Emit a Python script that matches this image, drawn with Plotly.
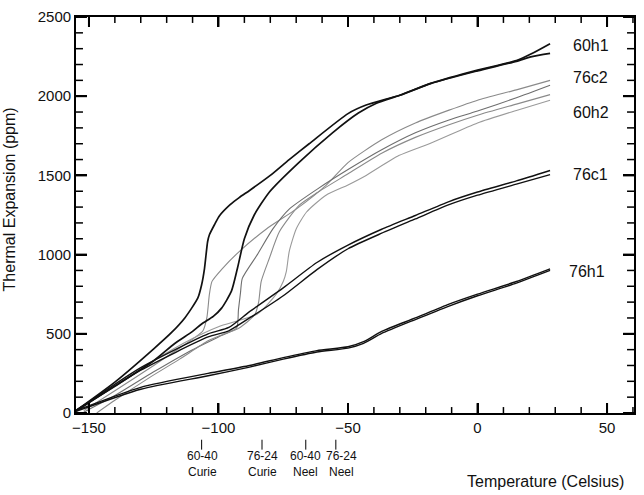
import plotly.graph_objects as go

# ---------------- data ----------------
# 60h1 : two black runs with a large (Curie) step
t_60h1_a = [-155, -140, -125, -118, -113, -108, -106.5, -105.4, -104.2, -103.5, -101.5, -99.6, -95.5, -92, -88, -80, -72.7, -65, -50, -43, -30, -18, 0, 15, 21, 28]
v_60h1_a = [15, 195, 405, 510, 600, 725, 810, 912, 1081, 1125, 1190, 1245, 1315, 1360, 1405, 1500, 1600, 1700, 1890, 1944, 2006, 2081, 2165, 2225, 2269, 2331]
t_60h1_b = [-155, -140, -125, -117, -110, -106.5, -102, -98.8, -95, -92.7, -90, -86.2, -80.4, -69, -56, -46, -39, -30, -18, 0, 15, 21, 28]
v_60h1_b = [15, 170, 330, 437, 515, 562, 610, 662, 769, 912, 1100, 1250, 1394, 1581, 1769, 1894, 1956, 2006, 2081, 2160, 2220, 2250, 2270]

# grey runs (76c2 / 60h2)
t_g_a = [-152, -140, -125, -115, -108, -106, -104.5, -103.5, -102.5, -98.5, -92, -81.5, -70, -58.5, -50, -37, -24, -11, 0, 15, 28]
v_g_a = [15, 140, 300, 410, 490, 519, 600, 750, 831, 912, 1019, 1162, 1287, 1437, 1581, 1725, 1831, 1912, 1975, 2040, 2100]
t_g_b = [-152, -140, -125, -110, -100, -93, -92.3, -91.5, -90.8, -85, -79, -72.7, -62, -50, -37, -24, -11, 0, 15, 28]
v_g_b = [5, 110, 260, 400, 480, 537, 650, 760, 850, 1000, 1162, 1287, 1412, 1537, 1662, 1769, 1850, 1906, 1990, 2069]
t_g_c = [-147, -140, -126.5, -115, -104, -97.7, -92, -86, -84.5, -83.5, -80.4, -76.5, -68.8, -62, -50, -37, -24, -11, 0, 15, 28]
v_g_c = [0, 80, 225, 340, 456, 500, 537, 620, 700, 831, 975, 1144, 1312, 1390, 1510, 1640, 1740, 1820, 1880, 1950, 2010]
t_g_d = [-155, -140, -125, -110, -100, -85, -77.7, -75, -73.8, -72.7, -70, -66, -58.5, -50, -43, -30.4, -17.7, 0, 15, 28]
v_g_d = [20, 165, 330, 470, 545, 625, 750, 830, 894, 1019, 1162, 1269, 1375, 1440, 1500, 1625, 1706, 1831, 1910, 1975]

# 76c1 : black double line
t_76c1 = [-155, -130, -104, -96, -88, -75, -62, -50, -37, -24, -11, 0, 15, 28]
v_76c1_a = [15, 287, 500, 540, 640, 790, 950, 1060, 1160, 1247, 1335, 1395, 1465, 1531]
v_76c1_b = [10, 270, 480, 519, 600, 740, 905, 1037, 1135, 1225, 1315, 1375, 1445, 1505]

# 76h1 : black double line
t_76h1 = [-155, -130, -104, -88, -75, -62, -50, -44, -37, -24, -11, 0, 15, 28]
v_76h1_a = [15, 162, 250, 300, 350, 394, 418, 450, 515, 600, 687, 750, 830, 910]
v_76h1_b = [10, 150, 235, 290, 340, 385, 410, 440, 502, 590, 675, 740, 820, 900]

# axes
x_range = [-155, 60.4]
y_range = [0, 2500]
x_major = [-150, -100, -50, 0, 50]
x_minor = list(range(-150, 61, 10))
y_major = [0, 500, 1000, 1500, 2000, 2500]
y_minor = list(range(0, 2501, 100))

# curve labels
label_text = ["60h1", "76c2", "60h2", "76c1", "76h1"]
label_x = [43.7, 43.7, 43.7, 43.7, 42.3]
label_y = [2319, 2119, 1900, 1506, 894]

# transition markers under the axis
marker_x = [-106.5, -83.2, -66.3, -54.7]
marker_text = ["60-40<br>Curie", "76-24<br>Curie", "60-40<br>Neel", "76-24<br>Neel"]
marker_text_x = [-106, -83, -66.5, -52.5]

FONT = "Liberation Sans, Arial, Helvetica, sans-serif"
BLACK = "#000000"
GREY = "#8a8a8a"
PLOT_W, PLOT_H = 560, 400  # plot-area size in px
ux = (x_range[1] - x_range[0]) / PLOT_W   # data units per px, x
uy = (y_range[1] - y_range[0]) / PLOT_H   # data units per px, y

fig = go.Figure()

def add(t, v, color, width):
    fig.add_trace(go.Scatter(x=t, y=v, mode="lines",
                             line=dict(color=color, width=width, shape="spline", smoothing=0.6),
                             showlegend=False, hoverinfo="skip"))

add(t_g_a, v_g_a, GREY, 1.1)
add(t_g_b, v_g_b, "#6e6e6e", 1.1)
add(t_g_c, v_g_c, GREY, 1.1)
add(t_g_d, v_g_d, "#9a9a9a", 1.1)
add(t_60h1_a, v_60h1_a, "#111111", 1.7)
add(t_60h1_b, v_60h1_b, "#111111", 1.7)
add(t_76c1, v_76c1_a, "#111111", 1.4)
add(t_76c1, v_76c1_b, "#111111", 1.4)
add(t_76h1, v_76h1_a, "#111111", 1.4)
add(t_76h1, v_76h1_b, "#111111", 1.4)

# inward tick marks on all four sides, one short line trace per tick
def add_tick(xs, ys, width):
    fig.add_trace(go.Scatter(x=xs, y=ys, mode="lines", cliponaxis=False,
                             line=dict(color=BLACK, width=width),
                             showlegend=False, hoverinfo="skip"))

for xv in x_minor:
    major = xv in x_major
    L = (10 if major else 6) * uy
    w = 2 if major else 1.5
    add_tick([xv, xv], [y_range[0], y_range[0] + L], w)
    add_tick([xv, xv], [y_range[1], y_range[1] - L], w)
for yv in y_minor:
    major = yv in y_major
    L = (11 if major else 7) * ux
    w = 2 if major else 1.5
    x0 = x_range[0] - (4 * ux if major else 0)
    add_tick([x0, x_range[0] + L], [yv, yv], w)
    add_tick([x_range[1], x_range[1] - L], [yv, yv], w)

annotations = []
for txt, x, y in zip(label_text, label_x, label_y):
    annotations.append(dict(x=x, y=y, xref="x", yref="y", text=txt, showarrow=False,
                            font=dict(family=FONT, size=16, color="#111111")))

shapes = []
for mx in marker_x:
    shapes.append(dict(type="line", xref="x", yref="paper", x0=mx, x1=mx,
                       y0=-0.0675, y1=-0.0925, line=dict(color=BLACK, width=1)))
for txt, x in zip(marker_text, marker_text_x):
    annotations.append(dict(x=x, y=(413 - 464.5) / 400, xref="x", yref="paper", text=txt,
                            showarrow=False, yanchor="middle",
                            font=dict(family=FONT, size=12, color="#111111")))

annotations.append(dict(x=0.986, y=(413 - 482) / 400, xref="paper", yref="paper",
                        text="Temperature (Celsius)", showarrow=False,
                        xanchor="right", yanchor="middle",
                        font=dict(family=FONT, size=16, color="#111111")))
annotations.append(dict(x=(9 - 76) / 560, y=(413 - 197) / 400, xref="paper", yref="paper",
                        text="Thermal Expansion (ppm)", showarrow=False, textangle=-90,
                        xanchor="center", yanchor="middle",
                        font=dict(family=FONT, size=16, color="#111111")))

fig.update_layout(
    width=644, height=495,
    margin=dict(l=76, r=8, t=13, b=82),
    paper_bgcolor="white", plot_bgcolor="white",
    font=dict(family=FONT, size=15, color="#111111"),
    annotations=annotations, shapes=shapes,
)
fig.update_xaxes(range=x_range, tickmode="array", tickvals=x_major,
                 ticks="inside", ticklen=10, tickwidth=2, tickcolor="black",
                 showline=True, linecolor="black", linewidth=1.8, mirror="ticks",
                 showgrid=False, zeroline=False,
                 tickfont=dict(family=FONT, size=15, color="#111111"))
fig.update_yaxes(range=y_range, tickmode="array", tickvals=y_major,
                 ticks="inside", ticklen=11, tickwidth=2, tickcolor="black",
                 showline=True, linecolor="black", linewidth=1.8, mirror="ticks",
                 showgrid=False, zeroline=False,
                 tickfont=dict(family=FONT, size=15, color="#111111"))

fig.write_html("out.html")
